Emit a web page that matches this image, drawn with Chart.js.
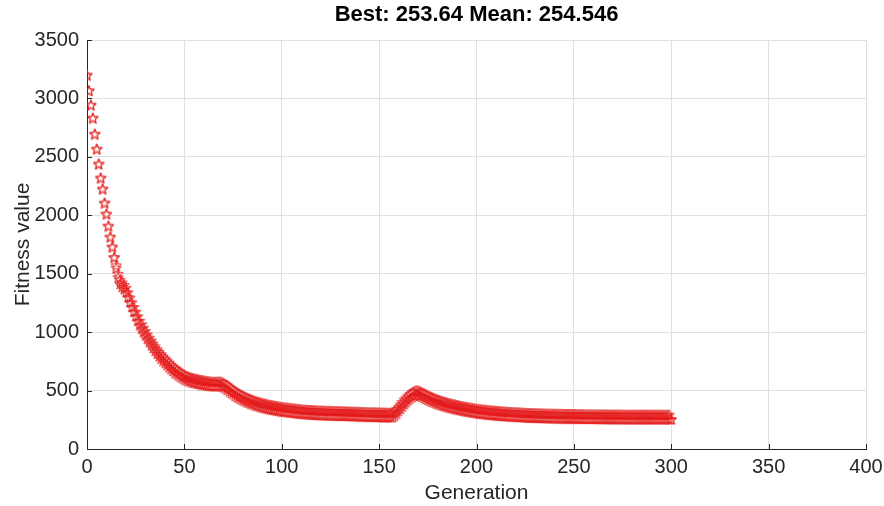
<!DOCTYPE html>
<html>
<head>
<meta charset="utf-8">
<title>GA fitness</title>
<script src="https://cdn.jsdelivr.net/npm/chart.js@4.4.0/dist/chart.umd.min.js"></script>
<style>
  html, body { margin: 0; padding: 0; background: #fff; }
  #wrap { width: 884px; height: 506px; }
</style>
</head>
<body>
<div id="wrap"><canvas id="gaChart" width="884" height="506"></canvas></div>
<script>
// Best and mean fitness per generation (generation 0 .. 300)
const bestFitness = [
    3196, 3062, 2940, 2828, 2691, 2563, 2435, 2315, 2221, 2101,
    2007, 1904, 1810, 1725, 1636, 1550, 1470, 1412, 1387, 1366,
    1340, 1300, 1255, 1215, 1175, 1135, 1095, 1058, 1028, 998,
    970, 940, 913, 887, 862, 838, 814, 792, 772, 753,
    735, 718, 700, 683, 668, 653, 640, 628, 616, 605,
    595, 587, 580, 574, 569, 565, 561, 557, 553, 550,
    547, 544, 541, 539, 537, 536, 536, 537, 538, 535,
    528, 518, 506, 493, 480, 468, 456, 445, 435, 426,
    417, 409, 401, 394, 387, 381, 375, 369, 364, 359,
    354, 350, 346, 342, 338, 335, 332, 329, 326, 323,
    320, 318, 316, 314, 312, 310, 308, 306, 304, 302,
    300, 298, 297, 296, 295, 294, 293, 292, 291, 290,
    289, 288, 288, 287, 287, 286, 286, 285, 285, 284,
    284, 283, 283, 282, 281, 281, 280, 280, 279, 279,
    278, 277, 277, 276, 276, 275, 275, 274, 274, 273,
    273, 272, 272, 271, 271, 271, 270, 272, 285, 302,
    322, 342, 362, 382, 400, 418, 433, 446, 456, 462,
    460, 454, 446, 437, 428, 420, 412, 405, 398, 391,
    385, 379, 373, 368, 363, 358, 353, 349, 345, 341,
    337, 333, 330, 326, 323, 320, 317, 314, 311, 308,
    305, 303, 301, 299, 297, 295, 293, 291, 290, 288,
    287, 285, 284, 283, 281, 280, 279, 278, 277, 276,
    275, 274, 273, 272, 271, 270, 269, 268, 267, 267,
    266, 266, 265, 265, 264, 264, 263, 263, 263, 262,
    262, 262, 261, 261, 261, 260, 260, 260, 259, 259,
    259, 259, 258, 258, 258, 258, 257, 257, 257, 257,
    257, 256, 256, 256, 256, 256, 256, 255, 255, 255,
    255, 255, 255, 255, 255, 255, 254, 254, 254, 254,
    254, 254, 254, 254, 254, 254, 254, 254, 254, 254,
    254, 254, 254, 254, 254, 254, 254, 254, 254, 254,
    253.64
];

const meanFitness = [
    3204, 3070, 2948, 2836, 2699, 2571, 2443, 2323, 2229, 2109,
    2015, 1912, 1818, 1733, 1644, 1572, 1500, 1448, 1425, 1404,
    1380, 1340, 1295, 1255, 1215, 1175, 1135, 1098, 1068, 1038,
    1010, 980, 953, 927, 902, 878, 854, 832, 812, 793,
    775, 758, 740, 723, 708, 693, 680, 668, 656, 645,
    635, 627, 620, 614, 609, 605, 601, 597, 593, 590,
    587, 584, 581, 579, 577, 576, 576, 577, 578, 575,
    568, 558, 546, 533, 520, 508, 496, 485, 475, 466,
    457, 449, 441, 434, 427, 421, 415, 409, 404, 399,
    394, 390, 386, 382, 378, 375, 372, 369, 366, 363,
    360, 358, 356, 354, 352, 350, 348, 346, 344, 342,
    340, 338, 337, 336, 335, 334, 333, 332, 331, 330,
    329, 328, 328, 327, 327, 326, 326, 325, 325, 324,
    324, 323, 323, 322, 321, 321, 320, 320, 319, 319,
    318, 317, 317, 316, 316, 315, 315, 314, 314, 313,
    313, 312, 312, 311, 311, 311, 310, 312, 325, 342,
    362, 382, 402, 422, 440, 458, 473, 486, 496, 502,
    500, 494, 486, 477, 468, 460, 452, 445, 438, 431,
    425, 419, 413, 408, 403, 398, 393, 389, 385, 381,
    377, 373, 370, 366, 363, 360, 357, 354, 351, 348,
    345, 343, 341, 339, 337, 335, 333, 331, 330, 328,
    327, 325, 324, 323, 321, 320, 319, 318, 317, 316,
    315, 314, 313, 312, 311, 310, 309, 308, 307, 307,
    306, 306, 305, 305, 304, 304, 303, 303, 303, 302,
    302, 302, 301, 301, 301, 300, 300, 300, 299, 299,
    299, 299, 298, 298, 298, 298, 297, 297, 297, 297,
    297, 296, 296, 296, 296, 296, 296, 295, 295, 295,
    295, 295, 295, 295, 295, 295, 294, 294, 294, 294,
    294, 294, 294, 294, 294, 294, 294, 294, 294, 294,
    294, 294, 294, 294, 294, 294, 294, 294, 294, 294,
    254.546
];

const xTicks = [0, 50, 100, 150, 200, 250, 300, 350, 400];
const yTicks = [0, 500, 1000, 1500, 2000, 2500, 3000, 3500];
const titleText = 'Best: 253.64 Mean: 254.546';

const FONT = "'Liberation Sans', Arial, Helvetica, sans-serif";
const AXIS_COLOR = '#262626';
const GRID_COLOR = '#e0e0e0';
const MARK_COLOR = '#e41c1c';

// hollow five-pointed star used as the point marker
function starMarker(size, color) {
    const c = document.createElement('canvas');
    c.width = c.height = size;
    const g = c.getContext('2d');
    const cx = size / 2, cy = size / 2 + 0.5;
    const R = size / 2 - 0.5, r = R * 0.42;
    g.beginPath();
    for (let i = 0; i < 10; i++) {
        const a = -Math.PI / 2 + i * Math.PI / 5;
        const rad = i % 2 ? r : R;
        g.lineTo(cx + rad * Math.cos(a), cy + rad * Math.sin(a));
    }
    g.closePath();
    g.strokeStyle = color;
    g.lineWidth = 0.9;
    g.stroke();
    return c;
}

const star = starMarker(12, MARK_COLOR);

function toPoints(values) {
    return values.map((v, gen) => ({ x: gen, y: v }));
}

// MATLAB-style inward tick marks plus the title centred over the axes
const axesDecor = {
    id: 'axesDecor',
    afterDraw(chart) {
        const { ctx, chartArea: a, scales } = chart;
        ctx.save();
        ctx.strokeStyle = AXIS_COLOR;
        ctx.lineWidth = 1;
        ctx.beginPath();
        xTicks.forEach(v => {
            const px = Math.round(scales.x.getPixelForValue(v)) + 0.5;
            ctx.moveTo(px, a.bottom);
            ctx.lineTo(px, a.bottom - 5);
        });
        yTicks.forEach(v => {
            const py = Math.round(scales.y.getPixelForValue(v)) + 0.5;
            ctx.moveTo(a.left, py);
            ctx.lineTo(a.left + 5, py);
        });
        ctx.stroke();

        ctx.fillStyle = '#000';
        ctx.font = 'bold 22px ' + FONT;
        ctx.textAlign = 'center';
        ctx.textBaseline = 'middle';
        ctx.fillText(titleText, (a.left + a.right) / 2, 15);
        ctx.restore();
    }
};

const tickFont = { family: FONT, size: 20 };
const labelFont = { family: FONT, size: 21 };
const plainTick = v => String(v);

new Chart(document.getElementById('gaChart').getContext('2d'), {
    type: 'line',
    data: {
        datasets: [
            {
                label: 'Best fitness',
                data: toPoints(bestFitness),
                showLine: false,
                pointStyle: star,
                borderColor: MARK_COLOR,
                backgroundColor: MARK_COLOR
            },
            {
                label: 'Mean fitness',
                data: toPoints(meanFitness),
                showLine: false,
                pointStyle: star,
                borderColor: MARK_COLOR,
                backgroundColor: MARK_COLOR
            }
        ]
    },
    options: {
        responsive: false,
        animation: false,
        layout: { padding: { top: 40, right: 18, left: 0, bottom: 0 } },
        plugins: {
            legend: { display: false },
            tooltip: { enabled: false }
        },
        scales: {
            x: {
                type: 'linear',
                min: 0,
                max: 400,
                afterBuildTicks: s => { s.ticks = xTicks.map(v => ({ value: v })); },
                afterFit: s => { s.height = 57; s.paddingLeft = 0; s.paddingRight = 0; },
                grid: { color: GRID_COLOR, drawTicks: false },
                border: { color: AXIS_COLOR },
                ticks: { padding: 6, font: tickFont, color: AXIS_COLOR, maxRotation: 0, callback: plainTick },
                title: {
                    display: true, text: 'Generation', font: labelFont,
                    color: AXIS_COLOR, padding: { top: 0, bottom: 0 }
                }
            },
            y: {
                type: 'linear',
                min: 0,
                max: 3500,
                afterBuildTicks: s => { s.ticks = yTicks.map(v => ({ value: v })); },
                afterFit: s => { s.width = 87; s.paddingTop = 0; s.paddingBottom = 0; },
                grid: { color: GRID_COLOR, drawTicks: false },
                border: { color: AXIS_COLOR },
                ticks: { padding: 8, font: tickFont, color: AXIS_COLOR, callback: plainTick },
                title: {
                    display: true, text: 'Fitness value', font: labelFont,
                    color: AXIS_COLOR, padding: { top: 11, bottom: 0 }
                }
            }
        }
    },
    plugins: [axesDecor]
});
</script>
</body>
</html>
